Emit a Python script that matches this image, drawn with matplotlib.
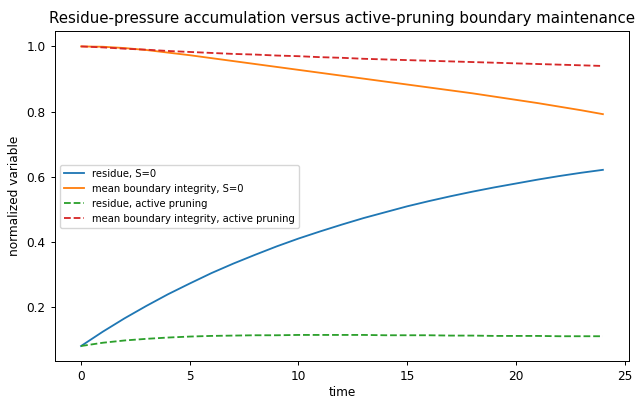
import numpy as np
import matplotlib
matplotlib.use("Agg")
import matplotlib.pyplot as plt

# values, one per time step
time = list(range(0, 25))

residue_s0 = [0.080, 0.124, 0.165, 0.203, 0.239, 0.272, 0.304, 0.333, 0.360,
              0.386, 0.410, 0.432, 0.453, 0.473, 0.491, 0.509, 0.525, 0.540,
              0.554, 0.567, 0.579, 0.591, 0.602, 0.612, 0.621]

integrity_s0 = [1.000, 0.999, 0.995, 0.989, 0.981, 0.973, 0.964, 0.955, 0.946,
                0.937, 0.928, 0.919, 0.910, 0.901, 0.892, 0.883, 0.874, 0.865,
                0.856, 0.846, 0.836, 0.826, 0.815, 0.804, 0.792]

residue_pruning = [0.080, 0.090, 0.097, 0.102, 0.106, 0.109, 0.111, 0.112, 0.113,
                   0.113, 0.114, 0.114, 0.114, 0.114, 0.113, 0.113, 0.113, 0.112,
                   0.112, 0.111, 0.111, 0.111, 0.110, 0.110, 0.110]

integrity_pruning = [1.000, 0.997, 0.993, 0.990, 0.986, 0.983, 0.980, 0.977, 0.975,
                     0.972, 0.970, 0.967, 0.965, 0.962, 0.960, 0.958, 0.956, 0.954,
                     0.952, 0.950, 0.948, 0.946, 0.944, 0.942, 0.940]

# the reference looks like a larger figure scaled down, so shrink text and lines
s = 0.876
plt.rcParams.update({
    "font.size": 10 * s,
    "lines.linewidth": 1.5 * s,
    "axes.linewidth": 0.8 * s,
    "xtick.major.size": 3.5 * s,
    "ytick.major.size": 3.5 * s,
    "xtick.major.width": 0.8 * s,
    "ytick.major.width": 0.8 * s,
})

fig = plt.figure(figsize=(6.37, 3.98), dpi=100)
ax = fig.add_axes([0.0863, 0.093, 0.9011, 0.828])

ax.plot(time, residue_s0, label="residue, S=0")
ax.plot(time, integrity_s0, label="mean boundary integrity, S=0")
ax.plot(time, residue_pruning, "--", label="residue, active pruning")
ax.plot(time, integrity_pruning, "--", label="mean boundary integrity, active pruning")

ax.set_xlabel("time", labelpad=2)
ax.set_ylabel("normalized variable")
ax.set_title("Residue-pressure accumulation versus active-pruning boundary maintenance",
             fontsize=10.8)
ax.legend(loc="center left", fontsize=7.2)

fig.savefig("out.png", dpi=100)
